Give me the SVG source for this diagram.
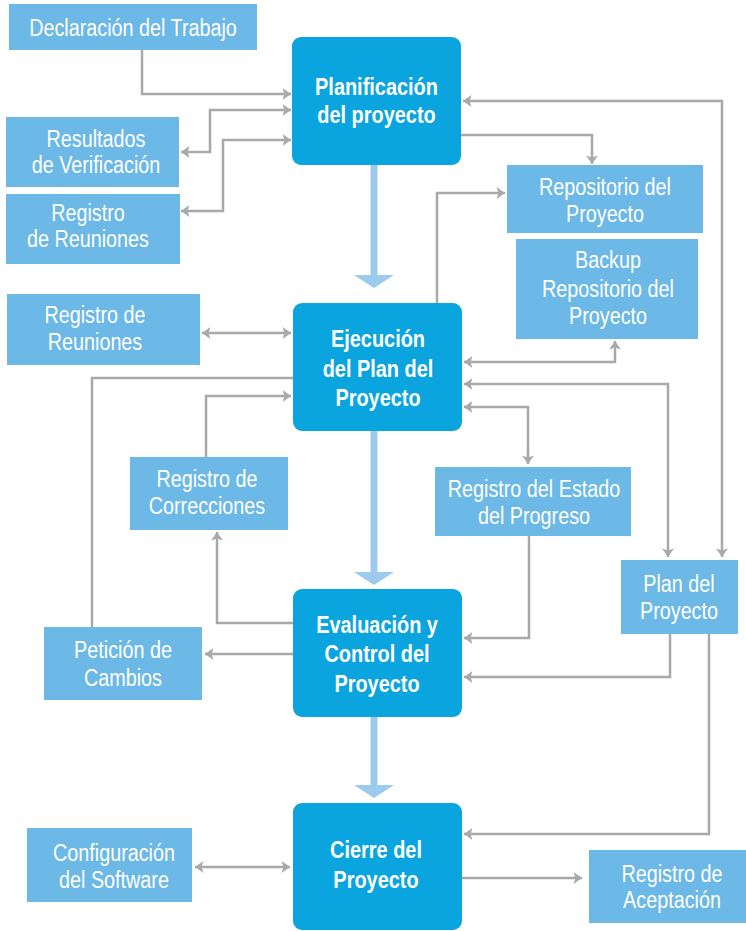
<svg xmlns="http://www.w3.org/2000/svg" width="746" height="931" viewBox="0 0 746 931">
<style>
.lb{fill:#6cb8e6}
.db{fill:#0aa5df}
.lt{font-family:"Liberation Sans",Arial,sans-serif;font-size:23px;fill:#fff;text-anchor:middle;transform-box:fill-box;transform-origin:center;transform:scaleX(0.86)}
.bt{font-family:"Liberation Sans",Arial,sans-serif;font-size:24px;font-weight:bold;fill:#fff;text-anchor:middle;transform-box:fill-box;transform-origin:center;transform:scaleX(0.83)}
.c{fill:none;stroke:#a7a9ac;stroke-width:2.5}
.a{marker-end:url(#ah)}
.b{marker-start:url(#ah);marker-end:url(#ah)}
.th{fill:#9ccbee}
</style>
<defs>
<marker id="ah" markerUnits="userSpaceOnUse" markerWidth="10" markerHeight="12" refX="7" refY="5" orient="auto-start-reverse" viewBox="0 0 8 10">
<path d="M0,0 L7,5 L0,10 L1.5,5 Z" fill="#a7a9ac"/>
</marker>
</defs>
<rect width="746" height="931" fill="#fff"/>
<g id="connectors">
<path class="c a" d="M142,50 V94 H291"/>
<path class="c b" d="M291,110 H210 V152 H181"/>
<path class="c b" d="M291,140 H223 V211 H181"/>
<path class="c a" d="M461,135 H592 V164"/>
<path class="c b" d="M463,101 H722 V557"/>
<path class="c a" d="M437,303 V193 H505"/>
<path class="c b" d="M202,333 H291"/>
<path class="c" d="M293,378 H92 V627"/>
<path class="c a" d="M206,457 V396 H291"/>
<path class="c a" d="M293,623 H217 V532"/>
<path class="c a" d="M293,654 H205"/>
<path class="c b" d="M464,362 H615 V341"/>
<path class="c b" d="M464,384 H668 V557"/>
<path class="c b" d="M464,407 H528 V464"/>
<path class="c a" d="M529,536 V638 H464"/>
<path class="c a" d="M670,634 V677 H464"/>
<path class="c a" d="M709,634 V834 H464"/>
<path class="c b" d="M195,867 H290"/>
<path class="c a" d="M462,878 H582"/>
<rect class="th" x="370.5" y="165" width="7" height="111"/>
<polygon class="th" points="354,275 394,275 374,288"/>
<rect class="th" x="370.5" y="431" width="7" height="143"/>
<polygon class="th" points="354,572 394,572 374,585"/>
<rect class="th" x="370.5" y="717" width="7" height="70"/>
<polygon class="th" points="354,785 394,785 374,798"/>
</g>
<g id="declaracion"><rect class="lb" x="9" y="4" width="248" height="46"/><text class="lt" x="133" y="36">Declaración del Trabajo</text></g>
<g id="resultados"><rect class="lb" x="6" y="117" width="173" height="70"/><text class="lt" x="96" y="147">Resultados</text><text class="lt" x="96" y="173">de Verificación</text></g>
<g id="reuniones1"><rect class="lb" x="6" y="194" width="174" height="70"/><text class="lt" x="88" y="221">Registro</text><text class="lt" x="88" y="247">de Reuniones</text></g>
<g id="planificacion"><rect class="db" x="292" y="37" width="169" height="128" rx="9"/><text class="bt" x="376.5" y="95">Planificación</text><text class="bt" x="376.5" y="123">del proyecto</text></g>
<g id="repositorio"><rect class="lb" x="507" y="165" width="196" height="68"/><text class="lt" x="605" y="195">Repositorio del</text><text class="lt" x="605" y="222">Proyecto</text></g>
<g id="backup"><rect class="lb" x="516" y="239" width="182" height="100"/><text class="lt" x="608" y="268">Backup</text><text class="lt" x="608" y="297">Repositorio del</text><text class="lt" x="608" y="324">Proyecto</text></g>
<g id="reuniones2"><rect class="lb" x="7" y="294" width="193" height="71"/><text class="lt" x="95" y="323">Registro de</text><text class="lt" x="95" y="350">Reuniones</text></g>
<g id="ejecucion"><rect class="db" x="293" y="303" width="169" height="128" rx="9"/><text class="bt" x="378" y="347">Ejecución</text><text class="bt" x="378" y="377">del Plan del</text><text class="bt" x="378" y="406">Proyecto</text></g>
<g id="correcciones"><rect class="lb" x="130" y="457" width="158" height="73"/><text class="lt" x="207" y="487">Registro de</text><text class="lt" x="207" y="514">Correcciones</text></g>
<g id="estado"><rect class="lb" x="435" y="467" width="196" height="69"/><text class="lt" x="534" y="497">Registro del Estado</text><text class="lt" x="534" y="524">del Progreso</text></g>
<g id="plan"><rect class="lb" x="621" y="560" width="117" height="74"/><text class="lt" x="679" y="592">Plan del</text><text class="lt" x="679" y="619">Proyecto</text></g>
<g id="evaluacion"><rect class="db" x="293" y="589" width="169" height="128" rx="9"/><text class="bt" x="377" y="633">Evaluación y</text><text class="bt" x="377" y="662">Control del</text><text class="bt" x="377" y="692">Proyecto</text></g>
<g id="peticion"><rect class="lb" x="44" y="627" width="158" height="73"/><text class="lt" x="123" y="658">Petición de</text><text class="lt" x="123" y="686">Cambios</text></g>
<g id="cierre"><rect class="db" x="293" y="803" width="169" height="127" rx="9"/><text class="bt" x="376" y="858">Cierre del</text><text class="bt" x="376" y="888">Proyecto</text></g>
<g id="configuracion"><rect class="lb" x="27" y="828" width="165" height="74"/><text class="lt" x="114" y="861">Configuración</text><text class="lt" x="114" y="888">del Software</text></g>
<g id="aceptacion"><rect class="lb" x="589" y="850" width="157" height="73"/><text class="lt" x="672" y="882">Registro de</text><text class="lt" x="672" y="908">Aceptación</text></g>
</svg>
